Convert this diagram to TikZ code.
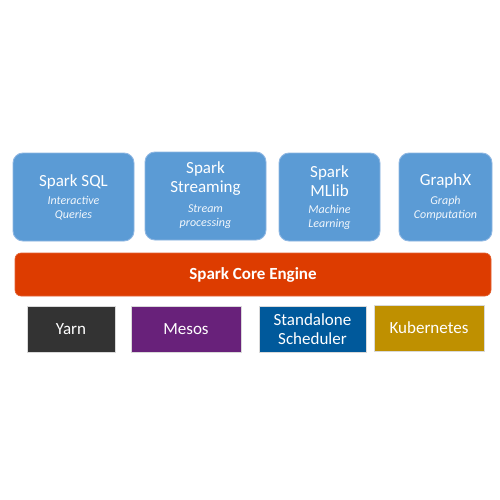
\documentclass[tikz,border=0pt]{standalone}
\usepackage{fontspec}
\setmainfont{Carlito}
\definecolor{topblue}{HTML}{5B9BD5}
\definecolor{topedge}{HTML}{8DB6E2}
\definecolor{corered}{HTML}{DD3C00}
\definecolor{yarnc}{HTML}{333333}
\definecolor{mesosc}{HTML}{68217A}
\definecolor{standc}{HTML}{00599B}
\definecolor{kubec}{HTML}{BF9000}
\definecolor{subc}{HTML}{F2F7FC}
\begin{document}
\begin{tikzpicture}[x=1pt,y=-1pt,
  topbox/.style={draw=topedge,line width=0.9pt,fill=topblue,rounded corners=10pt},
  corebox/.style={draw=corered!80!white,line width=0.6pt,fill=corered,rounded corners=6pt},
  basebox/.style={draw=black!15,line width=0.6pt},
  ttl/.style={text=white,align=center,font=\fontsize{17}{19}\selectfont},
  sub/.style={text=subc,align=center,font=\fontsize{12}{14}\selectfont\itshape},
  btxt/.style={text=white,align=center,font=\fontsize{17}{18.5}\selectfont}]
\useasboundingbox (0,0) rectangle (500,500);
\fill[white] (0,0) rectangle (500,500);
% top boxes
\draw[topbox] (13,153) rectangle (134,241);
\node[ttl] (sqlt) at (73.5,182) {Spark SQL};
\node[sub] (sqls) at (73.5,208) {Interactive\\Queries};
\draw[topbox] (145,152) rectangle (266,240);
\node[ttl] (strt) at (205.5,178.5) {Spark\\Streaming};
\node[sub] (strs) at (205.5,217) {Stream\\processing};
\draw[topbox] (279,153) rectangle (380,241);
\node[ttl] (mlt) at (329.5,181) {Spark\\MLlib};
\node[sub] (mls) at (329.5,217) {Machine\\Learning};
\draw[topbox] (399,153) rectangle (492,241);
\node[ttl] (gxt) at (445.5,181) {GraphX};
\node[sub] (gxs) at (445.5,208) {Graph\\Computation};
% core
\draw[corebox] (15,253) rectangle (491,296);
\node[text=white,font=\fontsize{17}{19}\selectfont\bfseries] (core) at (253,274.5) {Spark Core Engine};
% bottom
\draw[basebox,fill=yarnc] (27,306) rectangle (115,352);
\node[btxt] (yarn) at (71,329) {Yarn};
\draw[basebox,fill=mesosc] (131,306) rectangle (241,352);
\node[btxt] (mesos) at (186,329) {Mesos};
\draw[basebox,fill=standc] (259,306) rectangle (366,352);
\node[btxt] (stand) at (312.5,329) {Standalone\\Scheduler};
\draw[basebox,fill=kubec] (374,305) rectangle (484,351);
\node[btxt] (kube) at (429,328) {Kubernetes};
\end{tikzpicture}
\end{document}
